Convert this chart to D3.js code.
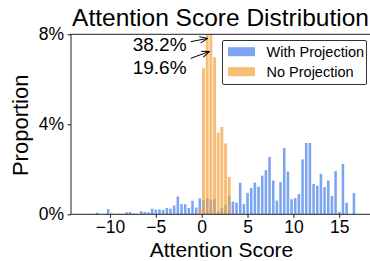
<!DOCTYPE html>
<html>
<head>
<meta charset="utf-8">
<script src="https://cdn.jsdelivr.net/npm/d3@7"></script>
<style>
  html, body { margin: 0; padding: 0; background: #fff; }
  svg { display: block; font-family: "Liberation Sans", Arial, sans-serif; }
</style>
</head>
<body>
<svg id="chart" width="370" height="261"></svg>
<script>
// ---- data (percent per bin, bin width 0.4) ----
const withBins = [-11.8,-11.4,-11.0,-10.6,-10.2,-9.8,-9.4,-9.0,-8.6,-8.2,-7.8,-7.4,-7.0,-6.6,-6.2,-5.8,-5.4,-5.0,-4.6,-4.2,-3.8,-3.4,-3.0,-2.6,-2.2,-1.8,-1.4,-1.0,-0.6,-0.2,
  0.2,0.6,1.0,1.4,1.8,2.2,2.6,3.0,3.4,3.8,4.2,4.6,5.0,5.4,5.8,6.2,6.6,7.0,7.4,7.8,8.2,8.6,9.0,9.4,9.8,10.2,10.6,11.0,11.4,11.8,12.2,12.6,13.0,13.4,13.8,14.2,14.6,15.0,15.4,15.8,16.2,16.6];
const withValues = [0.02,0.07,0.02,0.02,0.23,0.04,0.02,0.02,0.02,0.09,0.10,0.04,0.02,0.14,0.10,0.09,0.25,0.21,0.22,0.19,0.28,0.25,0.39,0.79,0.45,0.45,0.28,0.60,0.30,0.71,
  0.64,0.71,0.64,0.68,0.12,0.29,0.41,0.83,0.56,0.52,1.40,0.45,0.95,1.17,1.41,1.23,1.72,1.96,2.55,1.50,0.61,1.43,2.94,1.90,0.67,0.72,0.90,2.44,3.17,3.17,1.35,1.27,1.80,1.21,1.50,0.82,1.92,0.11,2.24,0.52,0,0.94];
const noBins = [-0.2,0.2,0.6,1.0,1.4,1.8,2.2,2.6,3.0];
const noValues = [0.25,6.49,38.2,19.6,6.98,3.63,3.88,3.15,1.66];
const binWidth = 0.4;
const seriesNames = ["With Projection","No Projection"];
const xTicks = [-10,-5,0,5,10,15];
const yTicks = [0,4,8];
const annotLabels = ["38.2%","19.6%"];
const annotBins = [0.6,1.0];
const annotTextPos = [[-1.65,7.24],[-1.65,6.22]];
const annotTail = [[-1.2,7.67],[-1.2,6.93]];
const annotTip = [[0.66,7.82],[0.87,7.24]];

const colors = {with: "cornflowerblue", no: "#f3a33a"};

const svg = d3.select("#chart");
const L = 71, R = 372, T = 34.3, B = 214.3;
const x = d3.scaleLinear().domain([-14.25, 18.57]).range([L, R]);
const y = d3.scaleLinear().domain([0, 8]).range([B, T]);

svg.append("defs").append("clipPath").attr("id","clip")
  .append("rect").attr("x", L).attr("y", T).attr("width", R - L).attr("height", B - T);
svg.select("defs").append("marker")
  .attr("id","arr").attr("viewBox","0 0 10 10").attr("refX",10).attr("refY",5)
  .attr("markerWidth",8).attr("markerHeight",8).attr("markerUnits","userSpaceOnUse")
  .attr("orient","auto")
  .append("path").attr("d","M0,1 L10,5 L0,9").attr("fill","none").attr("stroke","#000").attr("stroke-width",1.2);

const plot = svg.append("g").attr("clip-path","url(#clip)");

const withData = withBins.map((b,i)=>({b, v: withValues[i]}));
const noData = noBins.map((b,i)=>({b, v: noValues[i]}));

const bw = binWidth * 0.7, nw = binWidth * 0.8;
plot.selectAll("rect.w").data(withData).join("rect").attr("class","w")
  .attr("x", d => x(d.b - bw/2)).attr("width", x(bw) - x(0))
  .attr("y", d => y(d.v)).attr("height", d => y(0) - y(d.v))
  .attr("fill", colors.with).attr("fill-opacity", 0.85);
plot.selectAll("rect.n").data(noData).join("rect").attr("class","n")
  .attr("x", d => x(d.b - nw/2)).attr("width", x(nw) - x(0))
  .attr("y", d => y(Math.min(d.v, 8.5))).attr("height", d => y(0) - y(Math.min(d.v, 8.5)))
  .attr("fill", colors.no).attr("fill-opacity", 0.7);

// axes
const xAxis = svg.append("g").attr("transform", `translate(0,${B})`)
  .call(d3.axisBottom(x).tickValues(xTicks).tickSize(3.5).tickPadding(3));
const yAxis = svg.append("g").attr("transform", `translate(${L},0)`)
  .call(d3.axisLeft(y).tickValues(yTicks).tickFormat(d => d + "%").tickSize(3.5).tickPadding(3.5));
[xAxis, yAxis].forEach(a => {
  a.select(".domain").remove();
  a.selectAll("text").attr("font-size", 17.5).attr("fill","#000").attr("font-family","Liberation Sans, Arial, sans-serif");
  a.selectAll("line").attr("stroke","#000").attr("stroke-width",0.9);
});

// spines
svg.append("rect").attr("x", L).attr("y", T).attr("width", R - L).attr("height", B - T)
  .attr("fill","none").attr("stroke","#222").attr("stroke-width",1);

// title & labels
svg.append("text").attr("x", (L+R)/2 - 1).attr("y", 26).attr("text-anchor","middle")
  .attr("font-size", 24.5).text("Attention Score Distribution");
svg.append("text").attr("x", (L+R)/2).attr("y", 256.5).attr("text-anchor","middle")
  .attr("font-size", 21).text("Attention Score");
svg.append("text").attr("transform", `translate(28,${(T+B)/2 + 1}) rotate(-90)`).attr("text-anchor","middle")
  .attr("font-size", 22).text("Proportion");

// annotations
annotLabels.forEach((lab,i) => {
  svg.append("text").attr("x", x(annotTextPos[i][0])).attr("y", y(annotTextPos[i][1]))
    .attr("text-anchor","end").attr("font-size", 19).text(lab);
  svg.append("line")
    .attr("x1", x(annotTail[i][0])).attr("y1", y(annotTail[i][1]))
    .attr("x2", x(annotTip[i][0])).attr("y2", y(annotTip[i][1]))
    .attr("stroke","#000").attr("stroke-width",1).attr("marker-end","url(#arr)");
});

// legend
const lg = svg.append("g");
lg.append("rect").attr("x",222.5).attr("y",40.5).attr("width",144).attr("height",44).attr("rx",1.5)
  .attr("fill","#fff").attr("stroke","#333").attr("stroke-width",1);
[[colors.with,0.85],[colors.no,0.7]].forEach((c,i) => {
  const cy = 51.7 + i*20;
  lg.append("rect").attr("x",228).attr("y",cy-4.5).attr("width",27).attr("height",9)
    .attr("fill",c[0]).attr("fill-opacity",c[1]);
  lg.append("text").attr("x",266.5).attr("y",cy).attr("dy","0.35em").attr("font-size",14.5).text(seriesNames[i]);
});
</script>
</body>
</html>
